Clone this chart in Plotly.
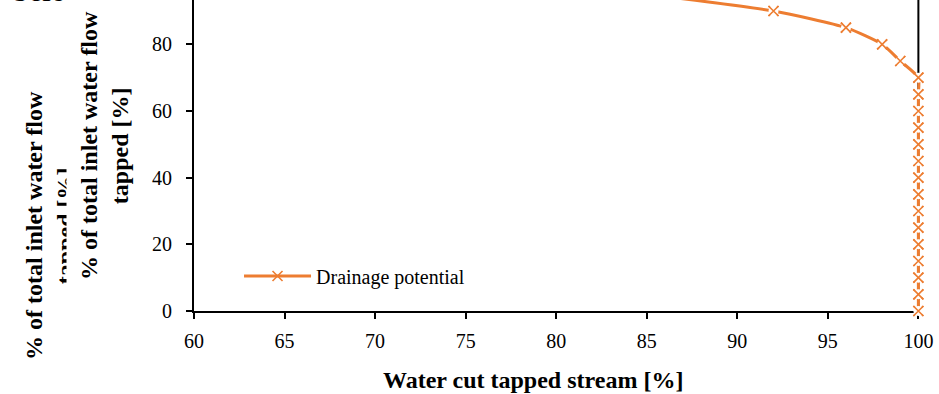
import plotly.graph_objects as go

# Drainage potential curve: water cut of the tapped stream vs. share of inlet water tapped
water_cut = [85, 92, 96, 98, 99, 100, 100, 100, 100, 100, 100, 100, 100, 100, 100, 100, 100, 100, 100, 100]
water_tapped = [95, 90, 85, 80, 75, 70, 65, 60, 55, 50, 45, 40, 35, 30, 25, 20, 15, 10, 5, 0]

x_ticks = [60, 65, 70, 75, 80, 85, 90, 95, 100]
y_ticks = [0, 20, 40, 60, 80]

ORANGE = "#ED7D31"
SERIF = "Liberation Serif, Times New Roman, serif"

W, H = 939, 394
X_MIN, X_MAX, X_PAD = 60, 100, 0.2
PX_PER_UNIT = 724 / (X_MAX - X_MIN)
ML, MT, MB = 194, 0, 83
MR = W - ML - PX_PER_UNIT * (X_MAX + X_PAD - X_MIN)

fig = go.Figure()

# smoothed line (legend entry)
fig.add_trace(go.Scatter(
    x=water_cut, y=water_tapped, mode="lines+markers", name="Drainage potential",
    line=dict(color=ORANGE, width=3, shape="spline", smoothing=0.6),
    marker=dict(symbol="x-thin", size=10, line=dict(color=ORANGE, width=1.6)),
    cliponaxis=False,
))
# white backing under each marker
fig.add_trace(go.Scatter(
    x=water_cut, y=water_tapped, mode="markers", showlegend=False, hoverinfo="skip",
    marker=dict(symbol="circle", size=10, color="white", line=dict(width=0)),
    cliponaxis=False,
))
# x markers
fig.add_trace(go.Scatter(
    x=water_cut, y=water_tapped, mode="markers", showlegend=False,
    marker=dict(symbol="x-thin", size=10, line=dict(color=ORANGE, width=1.6)),
    cliponaxis=False,
))

axis_common = dict(
    showgrid=False, zeroline=False, showline=True, linecolor="black", linewidth=2,
    ticks="outside", ticklen=6, tickwidth=2, tickcolor="black",
    tickfont=dict(family=SERIF, size=20, color="black"), layer="below traces",
)

fig.update_xaxes(range=[X_MIN, X_MAX + X_PAD], tickvals=x_ticks, ticktext=[str(v) for v in x_ticks],
                 mirror=False, ticklabelstandoff=5, **axis_common)
fig.update_yaxes(range=[0, 93.3], tickvals=y_ticks, ticktext=[str(v) for v in y_ticks],
                 mirror=False, ticklabelstandoff=10, **axis_common)

# right frame edge at x = 100, beneath the curve
fig.add_shape(type="line", xref="x", yref="paper", x0=X_MAX, x1=X_MAX, y0=0, y1=1,
              line=dict(color="black", width=2), layer="below")

def px_x(px):
    return (px - ML) / (W - ML - MR)

def px_y(py):
    return (H - MB - py) / (H - MB - MT)

TITLE_FONT = dict(family=SERIF, size=24, color="black")

annotations = [
    # x-axis title
    dict(text="<b>Water cut tapped stream [%]</b>", x=px_x(533), y=px_y(380),
         xref="paper", yref="paper", xanchor="center", yanchor="middle", showarrow=False,
         font=TITLE_FONT),
    # y-axis title
    dict(text="<b>% of total inlet water flow<br>tapped [%]</b>", x=px_x(104), y=px_y(145),
         xref="paper", yref="paper", xanchor="center", yanchor="middle", showarrow=False,
         textangle=-90, font=TITLE_FONT),
    # earlier copy of the y-axis title
    dict(text="<b>% of total inlet water flow<br>tapped [%]</b>", x=px_x(49), y=px_y(225),
         xref="paper", yref="paper", xanchor="center", yanchor="middle", showarrow=False,
         textangle=-90, font=TITLE_FONT),
    # panel covering part of that copy
    dict(text=" ", x=px_x(66), y=px_y(230), xref="paper", yref="paper",
         xanchor="left", yanchor="middle", showarrow=False, bgcolor="white",
         width=13, height=140, borderpad=0, font=dict(size=4)),
    # caption fragment from above
    dict(text="belo", x=px_x(11), y=px_y(10), xref="paper", yref="paper",
         xanchor="left", yanchor="bottom", showarrow=False,
         font=dict(family=SERIF, size=31, color="black")),
]

fig.update_layout(
    width=W, height=H,
    margin=dict(l=ML, r=MR, t=MT, b=MB),
    paper_bgcolor="white", plot_bgcolor="white",
    font=dict(family=SERIF, color="black"),
    showlegend=True,
    legend=dict(x=px_x(239), y=px_y(276), xanchor="left", yanchor="middle", itemwidth=67,
                bgcolor="rgba(0,0,0,0)", borderwidth=0,
                font=dict(family=SERIF, size=20, color="black")),
    annotations=annotations,
)

fig.write_html("out.html")
